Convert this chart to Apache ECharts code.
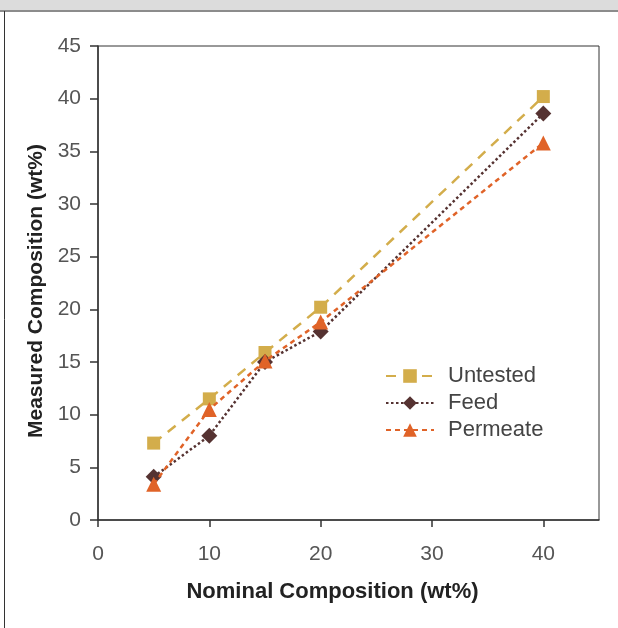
<!DOCTYPE html>
<html>
<head>
<meta charset="utf-8">
<script src="https://cdn.jsdelivr.net/npm/echarts@6/dist/echarts.min.js"></script>
<style>
  html, body { margin: 0; padding: 0; background: #fff; }
  #chart { width: 618px; height: 628px; }
</style>
</head>
<body>
<div id="chart"></div>
<script>
// nominal composition (wt%)
const nominal = [5, 10, 15, 20, 40];
// measured composition (wt%)
const untested = [7.3, 11.5, 15.9, 20.2, 40.2];
const feed = [4.1, 8.0, 15.0, 17.9, 38.6];
const permeate = [3.4, 10.5, 15.1, 18.8, 35.8];
// x ticks shown (45 is only the frame edge)
const xTicks = [0, 10, 20, 30, 40];

const pairs = (ys) => nominal.map((x, i) => [x, ys[i]]);

const chart = echarts.init(document.getElementById("chart"));
const tickFont = {
  color: "#555",
  fontSize: 21,
  fontFamily: "Liberation Sans",
};
const nameFont = {
  color: "#222",
  fontSize: 22,
  fontWeight: "bold",
  fontFamily: "Liberation Sans",
};

const option = {
  animation: false,
  graphic: [
    { type: "rect", shape: { x: 0, y: 0, width: 618, height: 10 }, style: { fill: "#dcdcdc" } },
    { type: "line", shape: { x1: 0, y1: 11, x2: 618, y2: 11 }, style: { stroke: "#8c8c8c", lineWidth: 2 } },
    { type: "line", shape: { x1: 4.5, y1: 11, x2: 4.5, y2: 628 }, style: { stroke: "#333", lineWidth: 1 } },
  ],
  grid: {
    left: 98,
    top: 46,
    right: 19,
    bottom: 108,
    show: true,
    borderColor: "#333",
    borderWidth: 1,
  },
  legend: {
    orient: "vertical",
    left: 385,
    top: 365,
    padding: 0,
    itemWidth: 48,
    itemHeight: 17,
    itemGap: 5,
    textStyle: {
      color: "#444",
      fontSize: 22,
      fontFamily: "Liberation Sans",
      padding: [0, 0, 0, 9],
    },
    data: ["Untested", "Feed", "Permeate"],
  },
  xAxis: {
    type: "value",
    min: 0,
    max: 45,
    interval: 10,
    name: "Nominal Composition (wt%)",
    nameLocation: "middle",
    nameGap: 61,
    nameTextStyle: Object.assign({ padding: [0, 32, 0, 0] }, nameFont),
    axisLine: { show: true, lineStyle: { color: "#333", width: 1.5 } },
    axisTick: { show: true, length: 7, customValues: xTicks, lineStyle: { color: "#333", width: 1.5 } },
    axisLabel: Object.assign({ margin: 24, customValues: xTicks }, tickFont),
    splitLine: { show: false },
  },
  yAxis: {
    type: "value",
    min: 0,
    max: 45,
    interval: 5,
    name: "Measured Composition (wt%)",
    nameLocation: "middle",
    nameGap: 50,
    nameTextStyle: Object.assign({ padding: [0, 16, 0, 0] }, nameFont, { fontSize: 21 }),
    axisLine: { show: true, lineStyle: { color: "#333", width: 1.5 } },
    axisTick: { show: true, length: 8, lineStyle: { color: "#333", width: 1.5 } },
    axisLabel: Object.assign({ margin: 17 }, tickFont),
    splitLine: { show: false },
  },
  series: [
    {
      name: "Untested",
      type: "line",
      data: pairs(untested),
      symbol: "rect",
      symbolSize: 13,
      itemStyle: { color: "#d3ad4b" },
      lineStyle: { color: "#d3ad4b", width: 2.5, type: [10, 8] },
      z: 3,
    },
    {
      name: "Feed",
      type: "line",
      data: pairs(feed),
      symbol: "diamond",
      symbolSize: 16,
      itemStyle: { color: "#553231" },
      lineStyle: { color: "#553231", width: 2.5, type: [2.5, 2.5] },
      z: 4,
    },
    {
      name: "Permeate",
      type: "line",
      data: pairs(permeate),
      symbol: "triangle",
      symbolSize: 15,
      itemStyle: { color: "#e06328" },
      lineStyle: { color: "#e06328", width: 2.5, type: [5, 4] },
      z: 5,
    },
  ],
};

chart.setOption(option);
</script>
</body>
</html>
